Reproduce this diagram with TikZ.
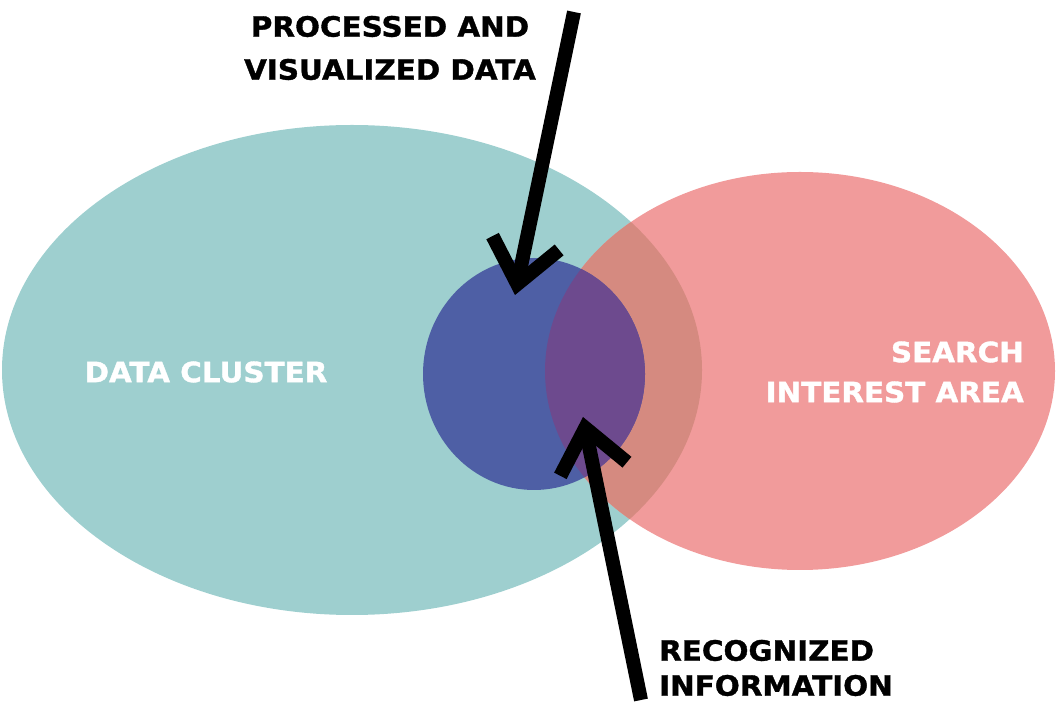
\documentclass[tikz,border=0pt]{standalone}
\usepackage{fontspec}
\setmainfont{DejaVu Sans}[BoldFeatures={FakeBold=1.3, FakeStretch=1.05}]
\usetikzlibrary{arrows.meta}
\definecolor{clusterteal}{RGB}{158,207,207}
\definecolor{searchpink}{RGB}{241,155,155}
\definecolor{overlapbrown}{RGB}{213,138,128}
\definecolor{procblue}{RGB}{78,95,165}
\definecolor{recpurple}{RGB}{109,74,142}

\begin{document}
\begin{tikzpicture}[x=1pt, y=1pt,
  caption/.style={font=\fontsize{28}{40}\selectfont\bfseries, inner sep=0pt},
  pointer/.style={line width=14pt, -{Straight Barb[length=42pt, width=68pt, sharp]}}]
\useasboundingbox (0,0) rectangle (1057,704);
\fill[clusterteal] (352,334) ellipse [x radius=350, y radius=245];
\fill[searchpink] (800,333) ellipse [x radius=255, y radius=199];
\begin{scope}
\clip (352,334) ellipse [x radius=350, y radius=245];
\fill[overlapbrown] (800,333) ellipse [x radius=255, y radius=199];
\end{scope}
\fill[procblue] (534,330) ellipse [x radius=111, y radius=116];
\begin{scope}
\clip (534,330) ellipse [x radius=111, y radius=116];
\fill[recpurple] (800,333) ellipse [x radius=255, y radius=199];
\end{scope}
\node[caption, align=center, font=\fontsize{28}{43}\selectfont\bfseries] (procdata) at (390,656) {PROCESSED AND\\VISUALIZED DATA};
\node[caption, white] (cluster) at (206,332) {DATA CLUSTER};
\node[caption, white, align=right, anchor=east] (search) at (1024,332) {SEARCH\\INTEREST AREA};
\node[caption, align=left, anchor=west, font=\fontsize{28}{35}\selectfont\bfseries] (recog) at (659,36) {RECOGNIZED\\INFORMATION};
\coordinate (proctail) at (574,692);
\coordinate (proctip) at (515,409);
\coordinate (rectail) at (641,4);
\coordinate (rectip) at (583,287);
\draw[pointer] (proctail) -- (proctip);
\draw[pointer] (rectail) -- (rectip);
\end{tikzpicture}
\end{document}
